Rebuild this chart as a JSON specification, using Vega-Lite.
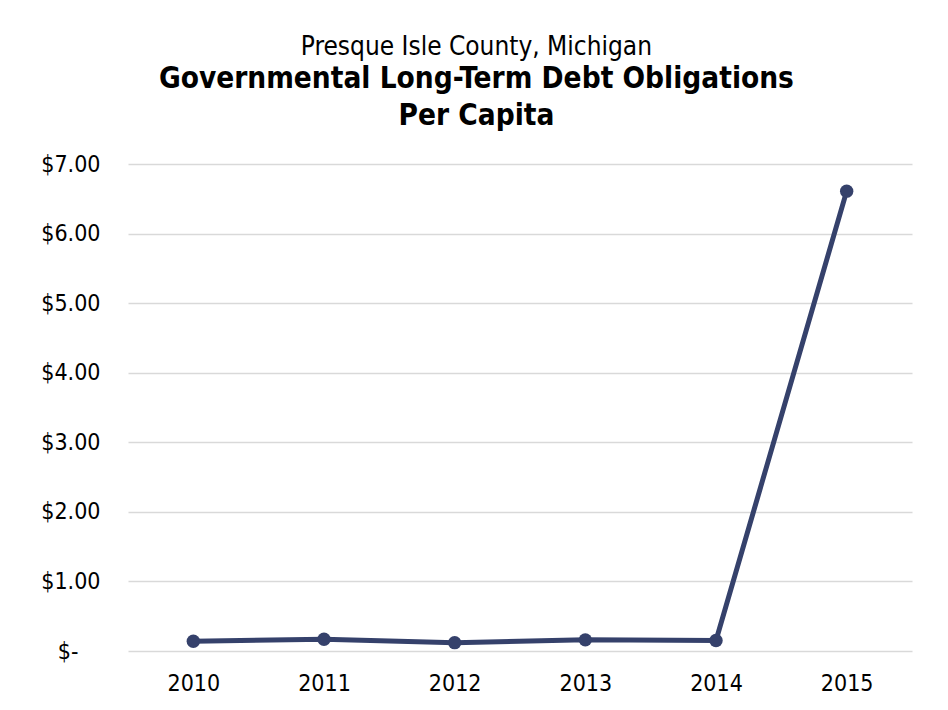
{
  "$schema": "https://vega.github.io/schema/vega-lite/v6.json",
  "width": 784,
  "height": 487,
  "autosize": {"type": "none"},
  "padding": {"left": 128, "top": 164, "right": 36, "bottom": 59},
  "background": "white",
  "title": {
    "text": "Presque Isle County, Michigan",
    "subtitle": ["Governmental Long-Term Debt Obligations", "Per Capita"],
    "anchor": "middle",
    "frame": "bounds",
    "font": "DejaVu Sans Condensed",
    "fontSize": 26,
    "fontWeight": "normal",
    "color": "#000000",
    "subtitleFont": "DejaVu Sans Condensed",
    "subtitleFontSize": 29.5,
    "subtitleFontWeight": "bold",
    "subtitleColor": "#000000",
    "subtitleLineHeight": 37,
    "subtitlePadding": 5,
    "offset": 23
  },
  "data": {
    "values": [
      {"year": "2010", "value": 0.14},
      {"year": "2011", "value": 0.17},
      {"year": "2012", "value": 0.12},
      {"year": "2013", "value": 0.16},
      {"year": "2014", "value": 0.15},
      {"year": "2015", "value": 6.61}
    ]
  },
  "encoding": {
    "x": {
      "field": "year",
      "type": "ordinal",
      "scale": {"paddingInner": 0, "paddingOuter": 0},
      "axis": {
        "title": null,
        "labelAngle": 0,
        "domain": false,
        "ticks": false,
        "labelPadding": 21,
        "labelFontSize": 23,
        "labelFont": "DejaVu Sans Condensed",
        "labelColor": "#000000"
      }
    },
    "y": {
      "field": "value",
      "type": "quantitative",
      "scale": {"domain": [0, 7], "nice": false},
      "axis": {
        "title": null,
        "values": [0, 1, 2, 3, 4, 5, 6, 7],
        "labelExpr": "datum.value == 0 ? '$-' : '$' + format(datum.value, '.2f')",
        "domain": false,
        "ticks": false,
        "labelPadding": {"condition": {"test": "datum.value == 0", "value": 50}, "value": 28},
        "labelFontSize": 23,
        "labelFont": "DejaVu Sans Condensed",
        "labelColor": "#000000",
        "grid": true,
        "gridColor": "#D9D9D9",
        "gridWidth": 1.5
      }
    }
  },
  "layer": [
    {
      "mark": {"type": "line", "color": "#35416B", "strokeWidth": 5}
    },
    {
      "mark": {"type": "point", "filled": true, "color": "#35416B", "size": 180, "opacity": 1}
    }
  ],
  "config": {
    "view": {"stroke": null}
  }
}
